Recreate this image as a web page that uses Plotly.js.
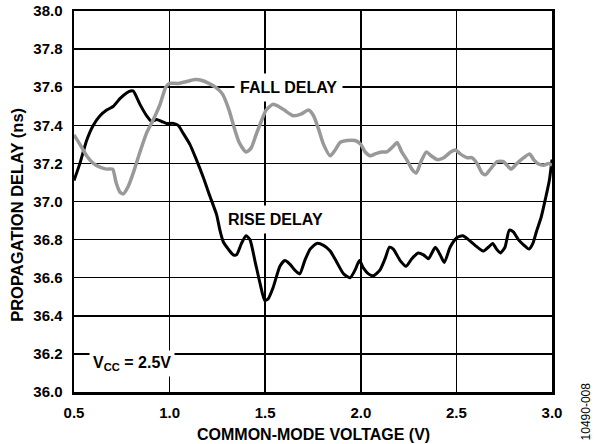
<!DOCTYPE html>
<html>
<head>
<meta charset="utf-8">
<script src="https://cdn.plot.ly/plotly-3.0.1.min.js"></script>
<style>html,body{margin:0;padding:0;background:#fff;}#chart{width:600px;height:444px;}</style>
</head>
<body>
<div id="chart"></div>
<script>
// Rise delay (black)
const riseX = [0.5,0.531,0.566,0.601,0.636,0.671,0.706,0.74,0.775,0.796,0.81,0.845,0.88,0.906,0.932,0.958,0.984,1.02,1.045,1.07,1.106,1.14,1.175,1.21,1.246,1.263,1.28,1.307,1.333,1.35,1.376,1.40,1.42,1.446,1.473,1.498,1.516,1.542,1.577,1.603,1.63,1.655,1.68,1.707,1.735,1.77,1.805,1.84,1.875,1.91,1.944,1.97,1.993,2.014,2.04,2.066,2.10,2.127,2.15,2.17,2.206,2.237,2.267,2.30,2.328,2.354,2.39,2.415,2.437,2.467,2.502,2.533,2.563,2.598,2.64,2.667,2.69,2.71,2.73,2.754,2.777,2.798,2.824,2.854,2.88,2.90,2.918,2.944,2.967,2.986,3.0];
const riseY = [37.11,37.2,37.32,37.40,37.45,37.48,37.50,37.54,37.57,37.58,37.58,37.51,37.45,37.42,37.43,37.42,37.41,37.41,37.40,37.36,37.30,37.22,37.13,37.03,36.93,36.85,36.79,36.75,36.72,36.72,36.78,36.82,36.80,36.69,36.57,36.48,36.49,36.55,36.66,36.69,36.67,36.64,36.62,36.69,36.75,36.78,36.77,36.74,36.68,36.62,36.60,36.64,36.69,36.65,36.62,36.61,36.64,36.70,36.76,36.75,36.69,36.66,36.70,36.73,36.72,36.70,36.76,36.72,36.68,36.76,36.81,36.82,36.80,36.77,36.74,36.76,36.78,36.75,36.73,36.76,36.85,36.84,36.80,36.77,36.75,36.78,36.84,36.92,37.02,37.11,37.22];

// Fall delay (gray)
const fallX = [0.5,0.531,0.566,0.601,0.636,0.671,0.702,0.72,0.74,0.758,0.784,0.81,0.845,0.88,0.915,0.95,0.98,1.0,1.046,1.09,1.134,1.17,1.205,1.24,1.276,1.311,1.337,1.364,1.40,1.426,1.452,1.479,1.505,1.54,1.568,1.60,1.647,1.69,1.726,1.753,1.779,1.805,1.84,1.866,1.892,1.927,1.97,2.0,2.023,2.05,2.075,2.11,2.136,2.17,2.19,2.214,2.24,2.267,2.29,2.315,2.343,2.368,2.40,2.434,2.47,2.495,2.52,2.556,2.58,2.608,2.634,2.652,2.678,2.713,2.744,2.765,2.786,2.817,2.852,2.883,2.904,2.925,2.956,2.983,3.0];
const fallY = [37.35,37.30,37.24,37.20,37.18,37.17,37.17,37.10,37.05,37.04,37.08,37.15,37.26,37.36,37.43,37.51,37.60,37.62,37.62,37.63,37.64,37.635,37.62,37.60,37.565,37.48,37.39,37.31,37.26,37.28,37.35,37.42,37.48,37.51,37.50,37.48,37.45,37.46,37.48,37.45,37.38,37.30,37.24,37.27,37.31,37.32,37.32,37.30,37.26,37.24,37.25,37.26,37.26,37.29,37.31,37.26,37.22,37.17,37.15,37.21,37.26,37.24,37.22,37.23,37.26,37.27,37.25,37.23,37.23,37.20,37.15,37.14,37.17,37.21,37.21,37.19,37.17,37.20,37.23,37.25,37.22,37.20,37.19,37.20,37.19];

const xTickVals = [0.5,1.0,1.5,2.0,2.5,3.0];
const xTickText = ['0.5','1.0','1.5','2.0','2.5','3.0'];
const yTickVals = [36.0,36.2,36.4,36.6,36.8,37.0,37.2,37.4,37.6,37.8,38.0];
const yTickText = ['36.0','36.2','36.4','36.6','36.8','37.0','37.2','37.4','37.6','37.8','38.0'];

const FONT = 'Liberation Sans, Arial, Helvetica, sans-serif';

const traces = [
  {x: riseX, y: riseY, type: 'scatter', mode: 'lines', name: 'RISE DELAY',
   line: {color: '#000000', width: 3, shape: 'spline', smoothing: 0.6}},
  {x: fallX, y: fallY, type: 'scatter', mode: 'lines', name: 'FALL DELAY',
   line: {color: '#999999', width: 3.5, shape: 'spline', smoothing: 0.6}}
];

const axisCommon = {
  showgrid: true, gridcolor: '#000000', gridwidth: 1.5,
  showline: true, linecolor: '#000000', linewidth: 2.5, mirror: true,
  ticks: '', zeroline: false, fixedrange: true,
  tickfont: {family: FONT, size: 15, color: '#000000', weight: 'bold'}
};

const layout = {
  width: 600, height: 444,
  margin: {l: 74, r: 48, t: 11, b: 52, pad: 0},
  paper_bgcolor: '#ffffff', plot_bgcolor: '#ffffff',
  showlegend: false,
  font: {family: FONT, color: '#000000'},
  xaxis: Object.assign({}, axisCommon, {range: [0.5, 3.0], tickmode: 'array', tickvals: xTickVals, ticktext: xTickText, ticklabelstandoff: 5}),
  yaxis: Object.assign({}, axisCommon, {range: [36.0, 38.0], tickmode: 'array', tickvals: yTickVals, ticktext: yTickText, ticklabelstandoff: 6}),
  annotations: [
    {x: 1.62, y: 37.6, xref: 'x', yref: 'y', text: 'FALL DELAY', showarrow: false,
     xanchor: 'center', yanchor: 'middle',
     bgcolor: '#ffffff', borderpad: 5, font: {family: FONT, size: 16, color: '#000', weight: 'bold'}},
    {x: 1.552, y: 36.907, xref: 'x', yref: 'y', text: 'RISE DELAY', showarrow: false,
     xanchor: 'center', yanchor: 'middle',
     bgcolor: '#ffffff', borderpad: 5, font: {family: FONT, size: 16, color: '#000', weight: 'bold'}},
    {x: 0.801, y: 36.148, xref: 'x', yref: 'y', text: 'V<sub>CC</sub> = 2.5V', showarrow: false,
     xanchor: 'center', yanchor: 'middle',
     bgcolor: '#ffffff', borderpad: 3, font: {family: FONT, size: 16, color: '#000', weight: 'bold'}},
    {x: -0.118, y: 0.464, xref: 'paper', yref: 'paper', text: 'PROPAGATION DELAY (ns)', textangle: -90, showarrow: false,
     xanchor: 'center', yanchor: 'middle',
     font: {family: FONT, size: 16.5, color: '#000', weight: 'bold'}},
    {x: 0.5, y: -0.111, xref: 'paper', yref: 'paper', text: 'COMMON-MODE VOLTAGE (V)', showarrow: false,
     xanchor: 'center', yanchor: 'middle',
     font: {family: FONT, size: 16, color: '#000', weight: 'bold'}},
    {x: 1.072, y: -0.05, xref: 'paper', yref: 'paper', text: '10490-008', textangle: -90, showarrow: false,
     xanchor: 'center', yanchor: 'middle',
     font: {family: 'Liberation Sans Narrow, Arial Narrow, ' + FONT, size: 12, color: '#000'}}
  ]
};

Plotly.newPlot('chart', traces, layout, {staticPlot: true, displayModeBar: false});
</script>
</body>
</html>
